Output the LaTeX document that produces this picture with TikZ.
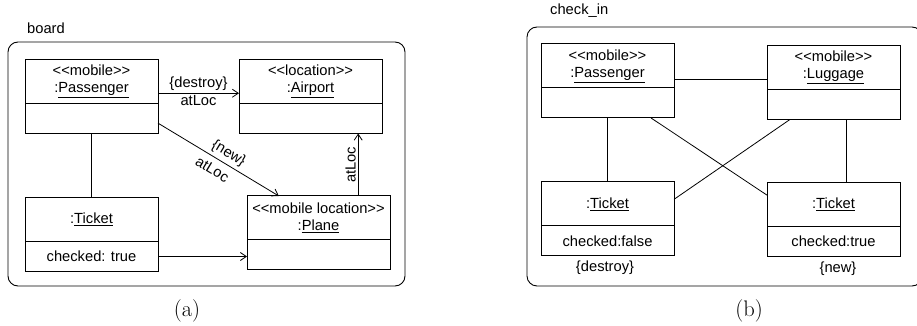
\documentclass[tikz,border=0pt]{standalone}
\usepackage{fontspec}
\setsansfont{Liberation Sans}[Ligatures=TeXOff]
\usepackage{tikz}
\usetikzlibrary{positioning,shapes,arrows.meta}

\newcommand{\umlfont}{\sffamily\fontsize{14.7}{17}\selectfont}
\tikzset{
  objhead/.style={draw, line width=1pt, minimum width=133pt, minimum height=44pt,
    inner sep=0pt, outer sep=0pt, align=center, font=\umlfont},
  objbody/.style={draw, line width=1pt, minimum width=133pt, minimum height=30pt,
    inner sep=0pt, outer sep=0pt, font=\umlfont},
  link/.style={line width=0.8pt},
  navlink/.style={link, -{Straight Barb[length=6pt,width=8pt]}},
  frame/.style={draw, line width=0.9pt, rounded corners=10pt},
  lbl/.style={font=\umlfont, inner sep=2pt},
  caption/.style={font=\fontsize{22.5}{25}\selectfont}
}

\begin{document}
\begin{tikzpicture}[x=1pt,y=1pt]
        \useasboundingbox (0,0) rectangle (917,326);
        % (a) board
        \draw[frame] (8,40) rectangle (405,284);
        \node[lbl, anchor=base west] (board) at (25,292) {board};
        \node[objhead] (pash) at (91.5,244.5) {<<mobile>>\\:\underline{Passenger}};
        \node[objbody, below=0pt of pash] (pasb) {};
        \node[objhead, minimum width=143pt, right=81pt of pash] (airh) {<<location>>\\:\underline{Airport}};
        \node[objbody, minimum width=143pt, below=0pt of airh] (airb) {};
        \node[objhead, below=64pt of pasb] (tich) {:\underline{Ticket}};
        \node[objbody, below=0pt of tich] (ticb) {checked: true};
        \node[objhead, minimum width=143pt, right=89pt of tich, yshift=1.5pt] (plah) {<<mobile location>>\\:\underline{Plane}};
        \node[objbody, minimum width=143pt, below=0pt of plah] (plab) {};
        \draw[link] (pasb) -- (tich);
        \draw[navlink] (pash.-10) -- (pash.-10 -| airh.west)
            node[lbl, midway, above] {\{destroy\}}
            node[lbl, midway, below] {atLoc};
        \draw[navlink] (pasb.-4.3) -- (plah.151.5)
            node[lbl, pos=0.54, above=1pt, sloped] {\{new\}}
            node[lbl, pos=0.5, below=4pt, sloped] {atLoc};
        \draw[navlink] (plah.29.7) -- (plah.29.7 |- airb.south)
            node[lbl, midway, above, sloped] {atLoc};
        \draw[navlink] (ticb.east) -- (ticb.east -| plab.west);
        \node[caption] (capa) at (187,15.5) {(a)};
        % (b) check_in
        \draw[frame] (527,40) rectangle (922,299);
        \node[lbl, anchor=base west] (checkin) at (548,311) {check\_in};
        \node[objhead] (pas2h) at (607.5,260) {<<mobile>>\\:\underline{Passenger}};
        \node[objbody, below=0pt of pas2h] (pas2b) {};
        \node[objhead, right=93pt of pas2h, yshift=-1.5pt] (lugh) {<<mobile>>\\:\underline{Luggage}};
        \node[objbody, below=0pt of lugh] (lugb) {};
        \node[objhead, below=64pt of pas2b] (tk1h) {:\underline{Ticket}};
        \node[objbody, below=0pt of tk1h] (tk1b) {checked:false};
        \node[objhead, below=63pt of lugb] (tk2h) {:\underline{Ticket}};
        \node[objbody, below=0pt of tk2h] (tk2b) {checked:true};
        \node[lbl, below=3pt of tk1b, xshift=-2.5pt] (destroy) {\{destroy\}};
        \node[lbl, below=3pt of tk2b, xshift=4.5pt] (new) {\{new\}};
        \draw[link] (pas2h.-11.9) -- (pas2h.-11.9 -| lugh.west);
        \draw[link] (pas2b) -- (tk1h);
        \draw[link] (lugb.-50.2) -- (lugb.-50.2 |- tk2h.north);
        \draw[link] (pas2b.-19.4) -- (tk2h.172.7);
        \draw[link] (lugb.199.9) -- (tk1h.4.7);
        \node[caption] (capb) at (749,15.5) {(b)};
\end{tikzpicture}
\end{document}
